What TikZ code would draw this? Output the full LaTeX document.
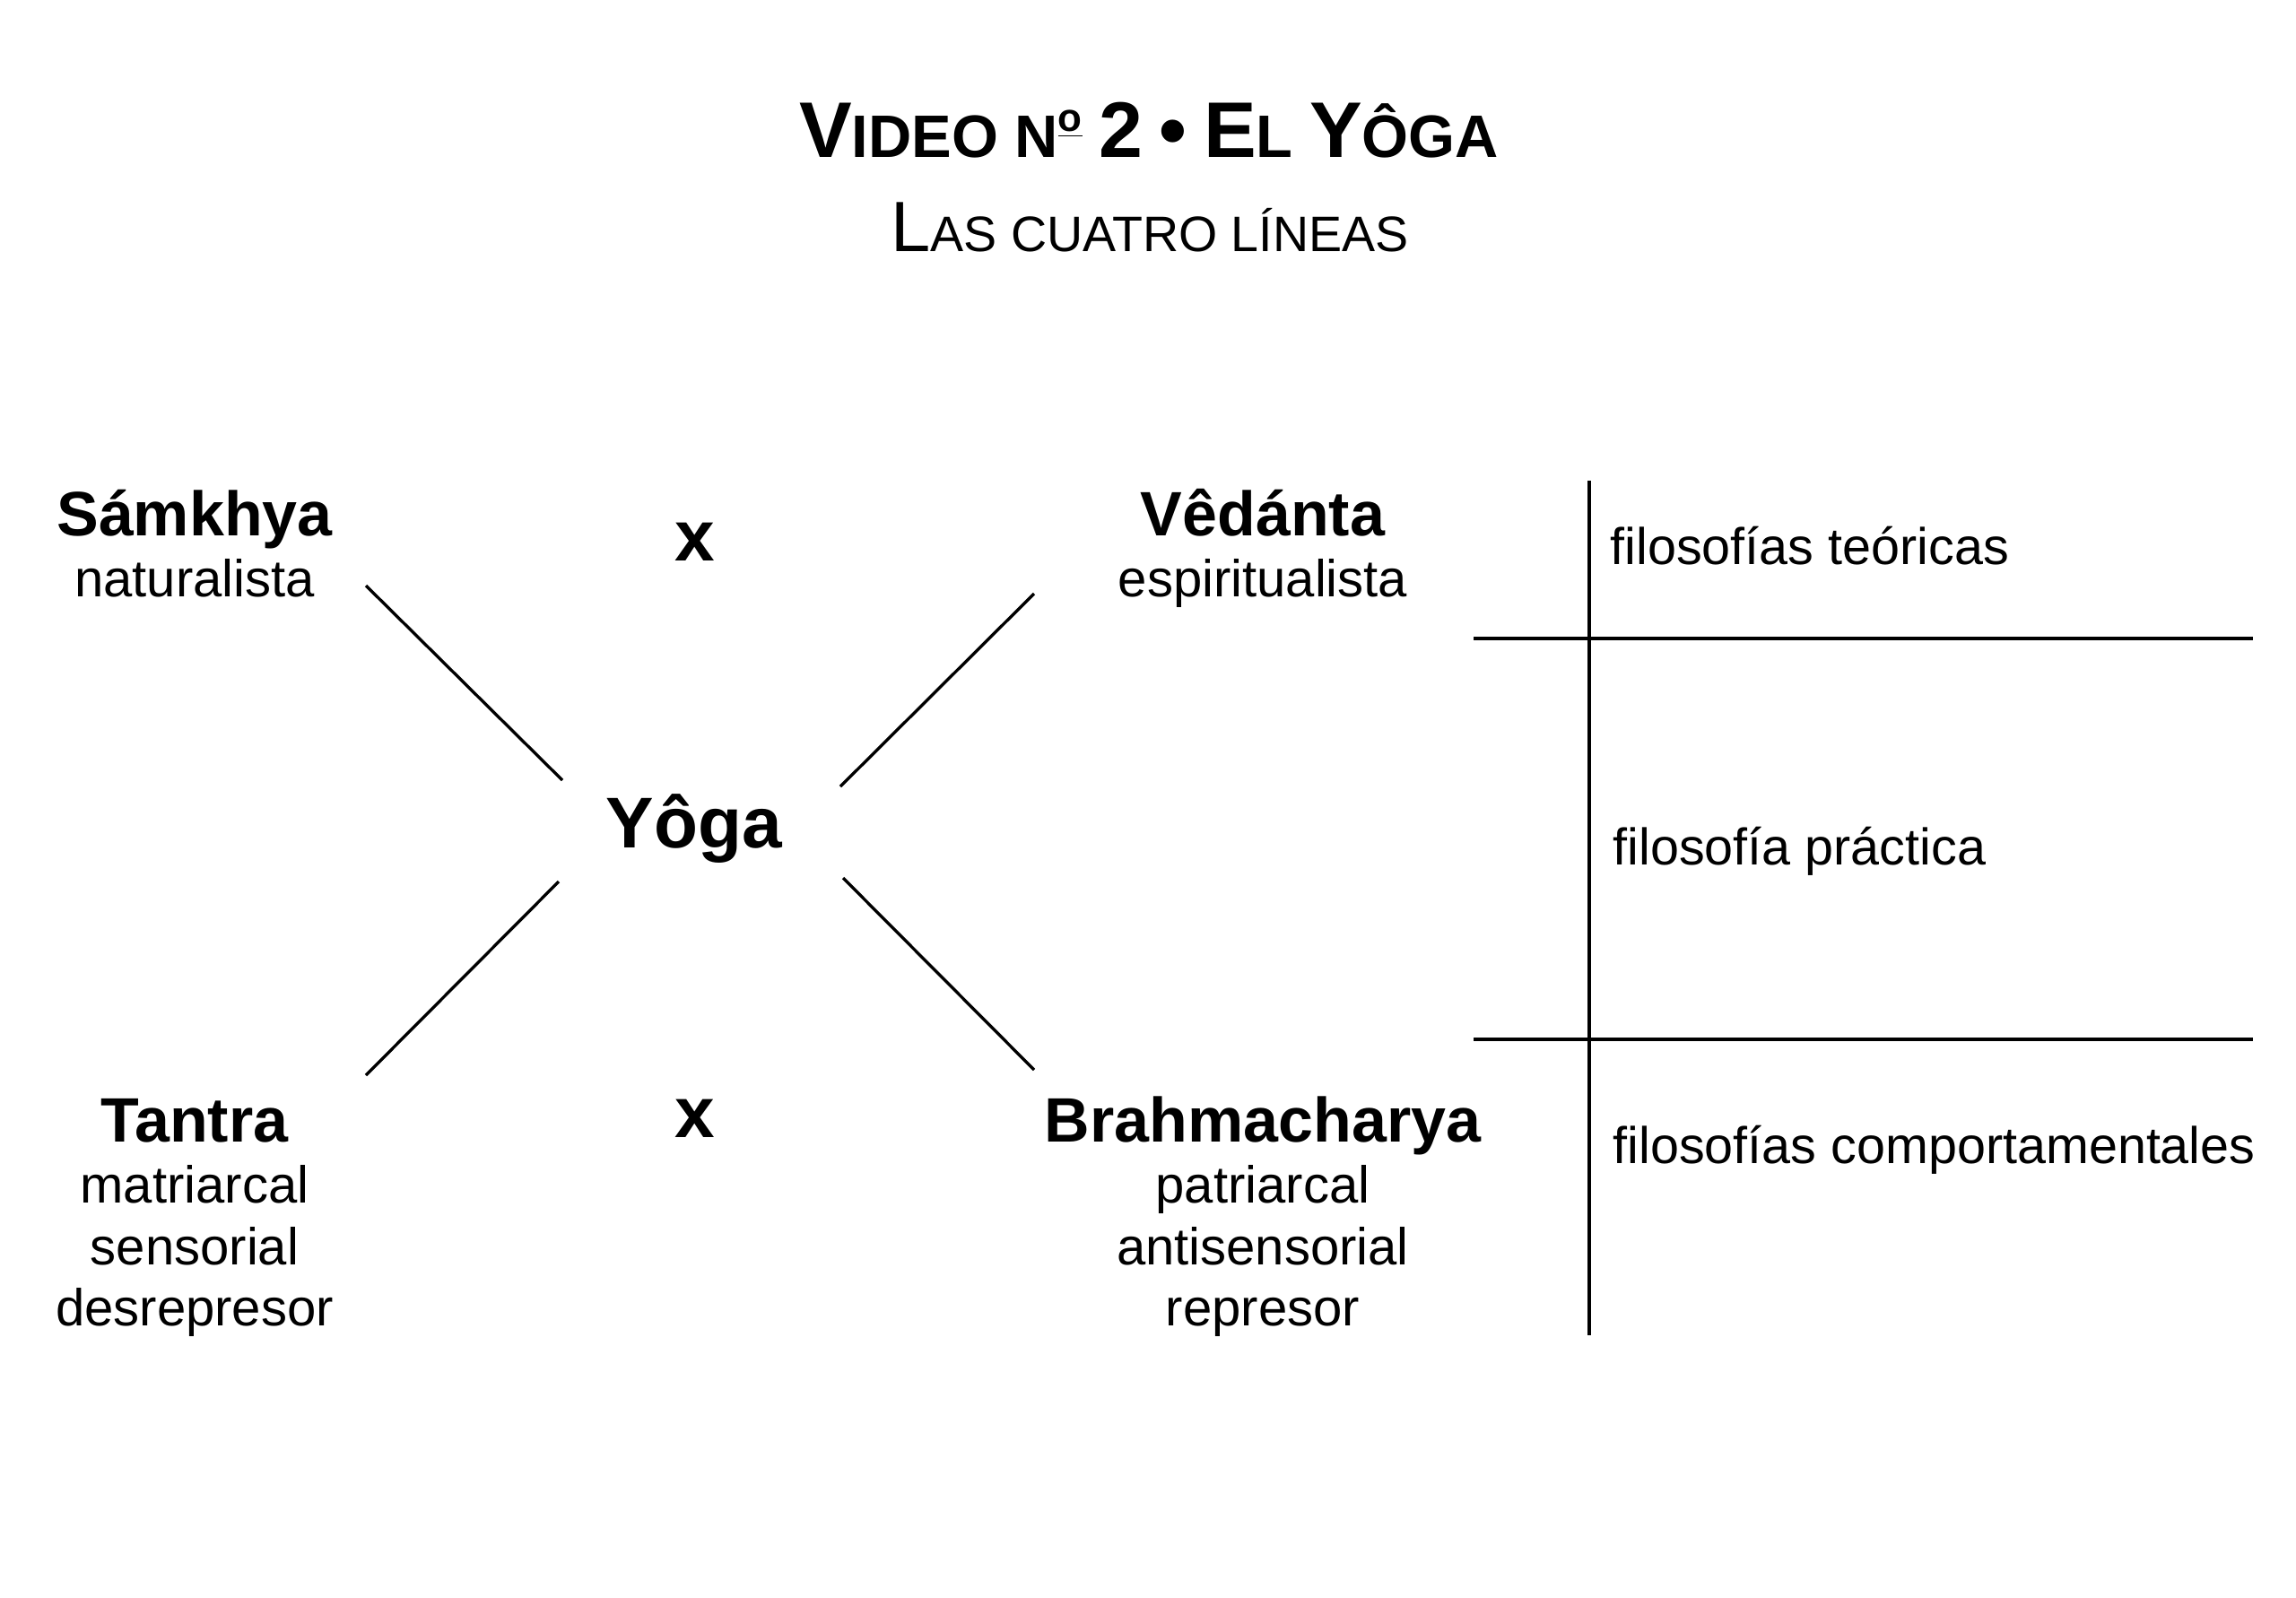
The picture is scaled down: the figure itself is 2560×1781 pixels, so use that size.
\documentclass[tikz,border=0pt]{standalone}
\usepackage{fontspec}
\setmainfont{Liberation Sans}
\usetikzlibrary{positioning}
\newcommand{\capbig}[2]{{\fontsize{#1}{30}\selectfont #2}}
\newcommand{\ordbar}{\raisebox{8.2pt}{\fontsize{12.5}{14}\selectfont\underline{o}}}

\begin{document}
\begin{tikzpicture}[x=0.01cm,y=0.01cm]
                \tikzstyle{every node}+=[inner sep=0pt]
                \tikzstyle{lead}=[anchor=base,font=\bfseries\fontsize{19.9}{24}\selectfont]
                \tikzstyle{trait}=[anchor=base,font=\fontsize{16.5}{20}\selectfont]
                \tikzstyle{hub}=[anchor=base,font=\bfseries\fontsize{22.8}{27}\selectfont]
                \tikzstyle{cell}=[anchor=base west,font=\fontsize{16.35}{20}\selectfont]
                \tikzstyle{bar}=[black,line width=0.95pt]
                \useasboundingbox (0,0) rectangle (2560,-1781);
                % title
                \node [anchor=base,font=\bfseries\fontsize{19}{30}\selectfont] (title) at (1281,-175)
                  {\capbig{25}{V}IDEO N\ordbar{} \capbig{25}{2} \capbig{25}{•} \capbig{25}{E}L \capbig{25}{Y}ÔGA};
                \node [anchor=base,font=\fontsize{15.8}{30}\selectfont] (subtitle) at (1282,-280)
                  {\capbig{22.6}{L}AS CUATRO LÍNEAS};
                % four lines
                \node [lead] (samkhya) at (217,-597) {Sámkhya};
                \node [trait] (naturalista) at (217,-665) {naturalista};
                \node [lead] (vedanta) at (1408,-597) {Vêdánta};
                \node [trait] (espiritualista) at (1408,-665) {espiritualista};
                \node [lead] (tantra) at (217,-1273) {Tantra};
                \node [trait] (matriarcal) at (217,-1341) {matriarcal};
                \node [trait] (sensorial) at (217,-1410) {sensorial};
                \node [trait] (desrepresor) at (217,-1478) {desrepresor};
                \node [lead] (brahma) at (1408,-1273) {Brahmacharya};
                \node [trait] (patriarcal) at (1408,-1341) {patriarcal};
                \node [trait] (antisensorial) at (1408,-1410) {antisensorial};
                \node [trait] (represor) at (1408,-1478) {represor};
                \node [hub] (yoga) at (774,-945) {Yôga};
                \node [hub] (xtop) at (775,-625) {x};
                \node [hub] (xbot) at (775,-1268) {x};
                % spokes
                \coordinate (s1) at (408,-653);
                \coordinate (y1) at (627,-870);
                \coordinate (s2) at (1153,-662);
                \coordinate (y2) at (937,-877);
                \coordinate (s3) at (408,-1199);
                \coordinate (y3) at (623,-983);
                \coordinate (s4) at (1153,-1193);
                \coordinate (y4) at (940,-979);
                \draw [bar] (s1) -- (y1);
                \draw [bar] (s2) -- (y2);
                \draw [bar] (s3) -- (y3);
                \draw [bar] (s4) -- (y4);
                % table
                \coordinate (vtop) at (1772,-536);
                \coordinate (vbot) at (1772,-1489);
                \coordinate (h1a) at (1643,-712);
                \coordinate (h1b) at (2512,-712);
                \coordinate (h2a) at (1643,-1159);
                \coordinate (h2b) at (2512,-1159);
                \draw [bar] (vtop) -- (vbot);
                \draw [bar] (h1a) -- (h1b);
                \draw [bar] (h2a) -- (h2b);
                \node [cell] (teoricas) at (1795,-629) {filosofías teóricas};
                \node [cell] (practica) at (1798,-964) {filosofía práctica};
                \node [cell] (comport) at (1798,-1297) {filosofías comportamentales};
\end{tikzpicture}
\end{document}
